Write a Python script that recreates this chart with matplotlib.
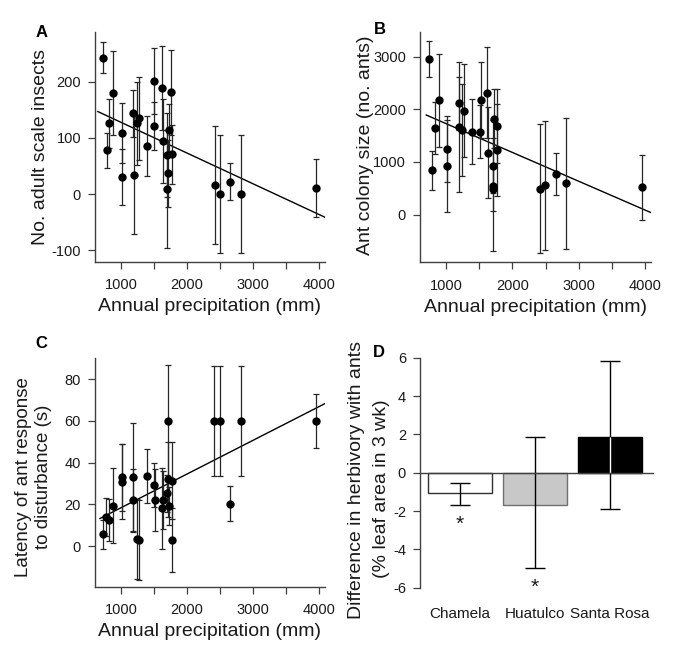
import numpy as np
import matplotlib
matplotlib.use("Agg")
import matplotlib.pyplot as plt
from matplotlib.ticker import MultipleLocator, FixedLocator

# values (precip in mm)
# panel A - scale insects
precip_a = [733, 783, 823, 879, 1020, 1020, 1187, 1192, 1237, 1267, 1393, 1504, 1504,
            1615, 1630, 1696, 1706, 1700, 1726, 1761, 1767, 2417, 2503, 2654, 2815, 3950]
scale_a = [243, 78, 126, 180, 109, 30, 144, 34, 126, 135, 86, 201, 121,
           189, 95, 70, 37, 9, 115, 181, 71, 16, 0, 22, 0, 11]
err_a = [28, 31, 43, 75, 53, 50, 42, 105, 74, 74, 53, 59, 43,
         75, 75, 75, 60, 105, 45, 75, 52, 105, 105, 33, 105, 52]
trend_x_a = [650, 4086]
trend_y_a = [147, -41]

# panel B - ant colony size
precip_b = [740, 790, 830, 890, 1020, 1020, 1190, 1190, 1265, 1235, 1396, 1521, 1516,
            1616, 1636, 1721, 1761, 1766, 1706, 1706, 1711, 2407, 2497, 2652, 2808, 3944]
colony_b = [2956, 842, 1646, 2171, 1247, 924, 2114, 1671, 1975, 1608, 1576, 2177, 1576,
            2316, 1177, 1816, 1684, 1228, 930, 551, 487, 494, 557, 772, 595, 519]
err_b = [345, 373, 500, 880, 620, 880, 506, 1234, 880, 880, 620, 715, 500,
         870, 870, 560, 700, 870, 520, 1250, 420, 1230, 1230, 390, 1240, 620]
trend_x_b = [700, 4075]
trend_y_b = [1892, 44]

# panel C - latency of ant response
precip_c = [733, 773, 823, 874, 1020, 1020, 1187, 1187, 1237, 1267, 1388, 1504, 1514,
            1615, 1640, 1706, 1706, 1701, 1726, 1772, 1772, 2412, 2498, 2654, 2815, 3950]
latency_c = [5.6, 14.0, 12.5, 19.3, 32.9, 30.8, 32.9, 22.0, 3.4, 2.9, 33.7, 29.4, 22.0,
             18.0, 22.0, 60, 32.0, 25.2, 19.3, 31.4, 2.9, 60, 60, 20.3, 60, 60]
err_c = [7, 9, 10, 18, 16, 18, 26, 15, 19, 19, 13, 10.5, 15,
         19.6, 14, 26.7, 18, 9, 9, 18.5, 15.2, 26.5, 26.5, 8.3, 26.5, 13]
trend_x_c = [682, 4086]
trend_y_c = [13.2, 68.3]

# panel D - herbivory difference
sites = ["Chamela", "Huatulco", "Santa Rosa"]
herb_diff = [-1.05, -1.69, 1.86]
herb_err_low = [0.64, 3.30, 3.77]
herb_err_high = [0.53, 3.53, 3.95]
signif = [True, True, False]

BAR_FACE = ["white", "#c8c8c8", "black"]
BAR_EDGE = ["#303030", "#707070", "black"]
INK = "#1a1a1a"
SPINE = "#404040"

plt.rcParams.update({
    "font.family": ["Liberation Sans", "DejaVu Sans"],
    "axes.unicode_minus": False,
    "text.color": INK,
    "axes.labelcolor": INK,
    "xtick.color": SPINE,
    "ytick.color": SPINE,
    "xtick.labelcolor": INK,
    "ytick.labelcolor": INK,
    "xtick.direction": "out",
    "ytick.direction": "out",
    "xtick.major.size": 5,
    "ytick.major.size": 5,
    "xtick.minor.size": 5,
    "xtick.major.width": 0.9,
    "ytick.major.width": 0.9,
    "xtick.minor.width": 0.9,
    "xtick.labelsize": 10.5,
    "ytick.labelsize": 10.5,
    "axes.labelsize": 14,
    "axes.edgecolor": SPINE,
    "axes.linewidth": 1.0,
})

W, H = 683, 651
fig = plt.figure(figsize=(W / 100, H / 100), dpi=100)


def px_axes(left, top, right, bottom):
    # pixel box -> figure fraction
    return fig.add_axes([left / W, 1 - bottom / H, (right - left) / W, (bottom - top) / H])


def scatter_panel(ax, x, y, err, tx, ty, ylim):
    ax.errorbar(x, y, yerr=err, fmt="o", color="black", ms=5, ecolor="#262626",
                elinewidth=0.9, capsize=2.5, capthick=0.9, zorder=3)
    ax.plot(tx, ty, color="black", lw=1, zorder=2)
    ax.set_xlim(607, 4086)
    ax.set_ylim(*ylim)
    ax.xaxis.set_major_locator(FixedLocator([1000, 2000, 3000, 4000]))
    ax.xaxis.set_minor_locator(FixedLocator([1500, 2500, 3500]))
    ax.tick_params(axis="x", which="both", pad=7)
    ax.tick_params(axis="y", pad=5)
    ax.spines["top"].set_visible(False)
    ax.spines["right"].set_visible(False)
    ax.set_xlabel("Annual precipitation (mm)", labelpad=4)


# A
ax_a = px_axes(95, 31.7, 325, 261.7)
scatter_panel(ax_a, precip_a, scale_a, err_a, trend_x_a, trend_y_a, (-120, 289))
ax_a.yaxis.set_major_locator(MultipleLocator(100))
ax_a.set_ylabel("No. adult scale insects")
ax_a.yaxis.set_label_coords(-0.198, 0.5)

# B
ax_b = px_axes(420, 32.3, 651, 262.3)
scatter_panel(ax_b, precip_b, colony_b, err_b, trend_x_b, trend_y_b, (-905, 3462))
ax_b.yaxis.set_major_locator(MultipleLocator(1000))
ax_b.set_ylabel("Ant colony size (no. ants)")
ax_b.yaxis.set_label_coords(-0.197, 0.51)

# C
ax_c = px_axes(95, 358.3, 325, 586.7)
scatter_panel(ax_c, precip_c, latency_c, err_c, trend_x_c, trend_y_c, (-19.5, 90))
ax_c.yaxis.set_major_locator(MultipleLocator(20))
ax_c.set_ylabel("Latency of ant response\nto disturbance (s)", multialignment="center",
                fontsize=13.5)
ax_c.yaxis.set_label_coords(-0.187, 0.48)

# D
ax_d = px_axes(420, 357.7, 654.3, 587.7)
xpos = np.arange(len(sites))
ax_d.bar(xpos, herb_diff, width=0.845, color=BAR_FACE, edgecolor=BAR_EDGE, lw=1, zorder=2)
ax_d.errorbar(xpos, herb_diff, yerr=[herb_err_low, herb_err_high], fmt="none",
              ecolor="black", elinewidth=1, capsize=7, capthick=1, zorder=3)
# the error bar shows white inside the black bar
for i, face in enumerate(BAR_FACE):
    if face == "black":
        ax_d.vlines(xpos[i], 0, herb_diff[i], color="white", lw=1, zorder=4)
ax_d.axhline(0, color=SPINE, lw=1, zorder=5)
for i, s in enumerate(signif):
    if s:
        ax_d.text(xpos[i], herb_diff[i] - herb_err_low[i] - 1.0, "*", ha="center",
                  va="center", fontsize=15, color=INK)
ax_d.set_xlim(-0.533, 2.59)
ax_d.set_ylim(-6, 6)
ax_d.yaxis.set_major_locator(MultipleLocator(2))
ax_d.set_xticks(xpos)
ax_d.set_xticklabels(sites, fontsize=11)
ax_d.tick_params(axis="x", length=0, pad=14)
ax_d.tick_params(axis="y", pad=5)
for side in ["top", "right", "bottom"]:
    ax_d.spines[side].set_visible(False)
ax_d.spines["left"].set_clip_on(False)
# two label lines placed separately, the second one sits a bit lower
ax_d.text(-0.269, 0.468, "Difference in herbivory with ants", rotation=90,
          transform=ax_d.transAxes, ha="center", va="center", fontsize=14)
ax_d.text(-0.166, 0.431, "(% leaf area in 3 wk)", rotation=90,
          transform=ax_d.transAxes, ha="center", va="center", fontsize=14)

# panel letters
for letter, (lx, ly) in zip("ABCD", [(41.7, 32.3), (380, 29.3), (41.7, 344), (379.3, 352.3)]):
    fig.text(lx / W, 1 - ly / H, letter, fontsize=12, fontweight="bold",
             ha="center", va="center", color="black")

fig.savefig("out.png", dpi=100, facecolor="white")
